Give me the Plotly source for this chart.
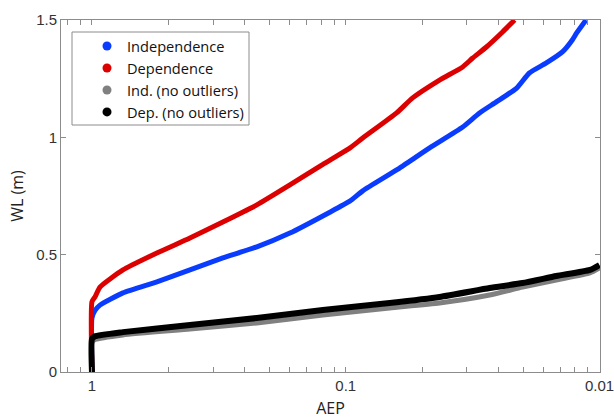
import numpy as np
import plotly.graph_objects as go

# ---- data ----
ind_aep = [1, 1, 0.973, 0.930, 0.755, 0.555, 0.411, 0.305, 0.224, 0.166, 0.116, 0.0964,
           0.0857, 0.0630, 0.0467, 0.0346, 0.0297, 0.0255, 0.0212, 0.0189, 0.0162, 0.0140, 0.0128,
           0.0123, 0.0113]
ind_wl = [0.0, 0.23, 0.262, 0.285, 0.337, 0.384, 0.435, 0.486, 0.533, 0.592, 0.680, 0.728,
          0.772, 0.861, 0.955, 1.044, 1.104, 1.151, 1.210, 1.274, 1.317, 1.364, 1.415,
          1.445, 1.5]

dep_aep = [1, 1, 0.973, 0.930, 0.755, 0.555, 0.411, 0.305, 0.224, 0.166, 0.123, 0.0964,
           0.0857, 0.0630, 0.0545, 0.0427, 0.0346, 0.0316, 0.0279, 0.0241, 0.0216]
dep_wl = [0.0, 0.30, 0.32, 0.362, 0.435, 0.507, 0.571, 0.639, 0.712, 0.797, 0.885, 0.954,
          0.997, 1.104, 1.168, 1.244, 1.300, 1.338, 1.385, 1.449, 1.5]

indn_aep = [1, 1, 0.973, 0.755, 0.411, 0.224, 0.123, 0.0671, 0.0427, 0.0271, 0.0201, 0.0148, 0.0109, 0.01]
indn_wl = [0.0, 0.125, 0.138, 0.158, 0.183, 0.209, 0.243, 0.273, 0.294, 0.328, 0.362, 0.392, 0.422, 0.443]

depn_aep = [1, 1, 0.973, 0.755, 0.411, 0.224, 0.123, 0.0671, 0.0427, 0.0271, 0.0201, 0.0148, 0.0109, 0.01]
depn_wl = [0.0, 0.14, 0.152, 0.170, 0.200, 0.230, 0.264, 0.294, 0.320, 0.358, 0.379, 0.409, 0.435, 0.456]

names = ["Independence", "Dependence", "Ind. (no outliers)", "Dep. (no outliers)"]
colors = ["#0a3cff", "#dd0000", "#808080", "#000000"]
widths = [5, 5, 5, 6]

return_periods = [0.8, 0.9, 1, 2, 3, 4, 5, 6, 7, 8, 9, 10, 20, 30, 40, 50, 60, 70, 80, 90, 100]
tick_labels = {1: "1", 10: "0.1", 100: "0.01"}

series = [(ind_aep, ind_wl), (dep_aep, dep_wl), (indn_aep, indn_wl), (depn_aep, depn_wl)]

fig = go.Figure()
for (x, y), n, c, w in zip(series, names, colors, widths):
    fig.add_trace(go.Scatter(x=x, y=y, mode="lines",
                             line=dict(color=c, width=w, shape="spline", smoothing=0.5),
                             showlegend=False, hoverinfo="skip"))
for n, c in zip(names, colors):
    fig.add_trace(go.Scatter(x=[None], y=[None], mode="markers", name=n,
                             marker=dict(color=c, size=9)))

tickvals = [1.0 / t for t in return_periods]
ticktext = [tick_labels.get(t, "") for t in return_periods]

axis_common = dict(showline=True, linecolor="#8c8c8c", linewidth=1, mirror="ticks",
                   ticks="inside", ticklen=5, tickcolor="#8c8c8c", showgrid=False,
                   zeroline=False, automargin=False, ticklabeloverflow="allow",
                   tickfont=dict(family="Liberation Sans", size=15, color="#333333"))

fig.update_xaxes(type="log", range=[np.log10(1 / 0.755), -2.002], tickvals=tickvals, ticktext=ticktext,
                 title=dict(text="AEP", font=dict(family="Open Sans", size=16, color="#222222"),
                            standoff=10),
                 **axis_common)
fig.update_yaxes(range=[0, 1.5], tickvals=[0, 0.5, 1, 1.5], ticktext=["0", "0.5", "1", "1.5"],
                 title=dict(text="WL (m)", font=dict(family="Open Sans", size=16, color="#222222"),
                            standoff=8),
                 **axis_common)

fig.add_shape(type="rect", xref="paper", yref="paper",
              x0=(72 - 61) / 539, x1=(249 - 61) / 539, y0=(372 - 125) / 352, y1=(372 - 32) / 352,
              line=dict(color="#8c8c8c", width=1), fillcolor="white", layer="above")

fig.update_layout(
    width=614, height=419,
    margin=dict(l=61, r=14, t=20, b=47),
    plot_bgcolor="white", paper_bgcolor="white",
    legend=dict(x=(87 - 61) / 539, y=(372 - 30) / 352, xanchor="left", yanchor="top",
                bgcolor="rgba(0,0,0,0)", borderwidth=0,
                font=dict(family="Open Sans", size=14.6, color="#111111"),
                itemwidth=30, tracegroupgap=0),
)

fig.write_html("out.html")
